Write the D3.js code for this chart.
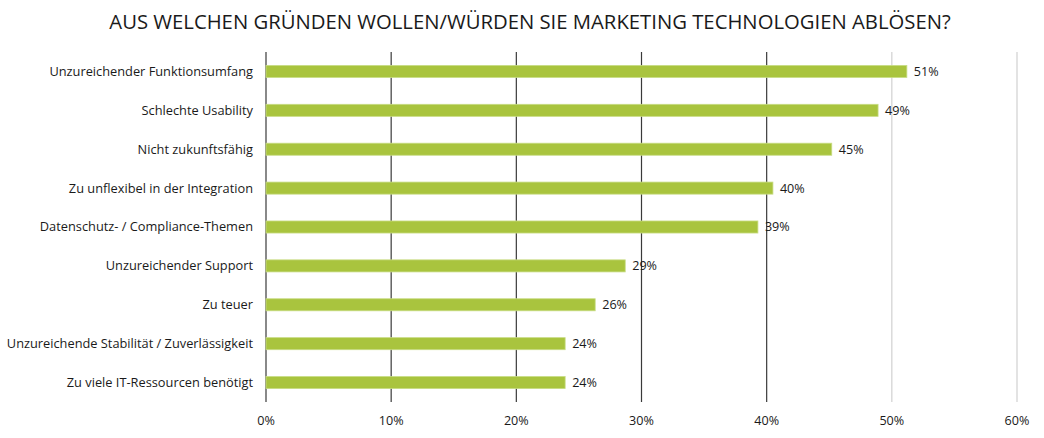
<!DOCTYPE html>
<html>
<head>
<meta charset="utf-8">
<script src="https://cdn.jsdelivr.net/npm/d3@7.9.0/dist/d3.min.js"></script>
<style>
  body { margin: 0; background: #fff; }
  text { font-family: "Open Sans", "Noto Sans", sans-serif; fill: #1a1a1a; }
</style>
</head>
<body>
<svg id="chart" width="1044" height="438"></svg>
<script>
// Chart data
const categories = [
    "Unzureichender Funktionsumfang",
    "Schlechte Usability",
    "Nicht zukunftsfähig",
    "Zu unflexibel in der Integration",
    "Datenschutz- / Compliance-Themen",
    "Unzureichender Support",
    "Zu teuer",
    "Unzureichende Stabilität / Zuverlässigkeit",
    "Zu viele IT-Ressourcen benötigt"
];
const values = [51.2, 48.9, 45.2, 40.5, 39.3, 28.7, 26.3, 23.9, 23.9];
const valueLabels = ["51%", "49%", "45%", "40%", "39%", "29%", "26%", "24%", "24%"];
const ticks = [0, 10, 20, 30, 40, 50, 60];
const title = "AUS WELCHEN GRÜNDEN WOLLEN/WÜRDEN SIE MARKETING TECHNOLOGIEN ABLÖSEN?";

const svg = d3.select('#chart');
const margin = { top: 52, left: 266, right: 27, bottom: 36 };
const width = 1044, height = 438;

const x = d3.scaleLinear()
    .domain([0, 60])
    .range([margin.left, width - margin.right]);

const y = d3.scaleBand()
    .domain(categories)
    .range([margin.top, height - margin.bottom])
    .paddingInner(0.69)
    .paddingOuter(0.345);

// Title
svg.append('text')
    .attr('x', 530)
    .attr('y', 29)
    .attr('text-anchor', 'middle')
    .style('font-size', '20.3px')
    .text(title);

// Gridlines
svg.append('g')
    .selectAll('line')
    .data(ticks)
    .join('line')
    .attr('x1', d => x(d)).attr('x2', d => x(d))
    .attr('y1', margin.top).attr('y2', height - margin.bottom)
    .attr('stroke', d => d <= 40 ? '#3a3a3a' : '#d0d0d0')
    .attr('stroke-width', 1.2);

// Bars
svg.append('g')
    .selectAll('rect')
    .data(values)
    .join('rect')
    .attr('x', x(0))
    .attr('y', (d, i) => y(categories[i]))
    .attr('width', d => x(d) - x(0))
    .attr('height', y.bandwidth())
    .attr('fill', '#a9c43e')
    .attr('stroke', '#c8dc84')
    .attr('stroke-width', 0.8);

// Value labels
svg.append('g')
    .selectAll('text')
    .data(values)
    .join('text')
    .attr('x', d => x(d) + 7)
    .attr('y', (d, i) => y(categories[i]) + y.bandwidth() / 2)
    .attr('dy', '0.35em')
    .style('font-size', '12.6px')
    .text((d, i) => valueLabels[i]);

// Category labels
svg.append('g')
    .selectAll('text')
    .data(categories)
    .join('text')
    .attr('x', margin.left - 13)
    .attr('y', d => y(d) + y.bandwidth() / 2)
    .attr('dy', '0.35em')
    .attr('text-anchor', 'end')
    .style('font-size', '12.8px')
    .text(d => d);

// X axis labels
svg.append('g')
    .selectAll('text')
    .data(ticks)
    .join('text')
    .attr('x', d => x(d))
    .attr('y', 425)
    .attr('text-anchor', 'middle')
    .style('font-size', '12.6px')
    .text(d => d + '%');
</script>
</body>
</html>
